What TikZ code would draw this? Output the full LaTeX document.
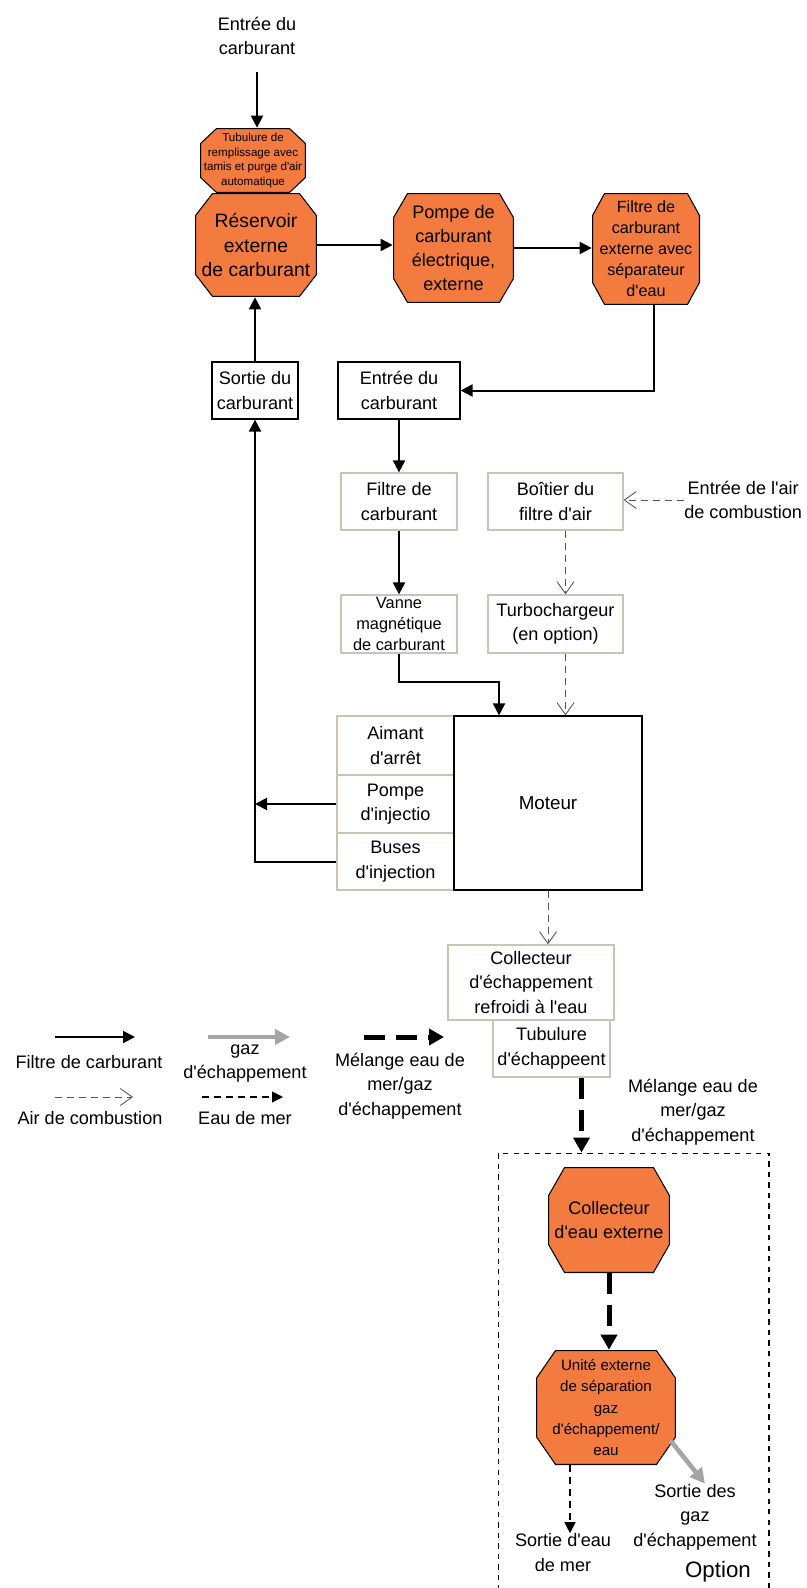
\documentclass[tikz,border=0pt]{standalone}
\usepackage{fontspec}
\setmainfont{Liberation Sans}
\usetikzlibrary{positioning, arrows.meta, calc}

\definecolor{tankorange}{RGB}{243,123,63}
\definecolor{paleline}{RGB}{205,195,178}
\definecolor{airline}{RGB}{85,85,85}
\definecolor{gasline}{RGB}{165,165,165}

\newcommand{\txtsize}[2]{\fontsize{#1}{#2}\selectfont}
\newcommand{\ap}{\textquotesingle}

\tikzset{
  lbl/.style={align=center, inner sep=0pt, font=\txtsize{10.3}{14}},
  % octagon: width, height, corner cut x, corner cut y
  octo/.style n args={4}{rectangle, minimum width=#1, minimum height=#2, inner sep=0pt, align=center,
    font=\txtsize{10.3}{13.5},
    path picture={
      \coordinate (sw) at ([shift={(0.3pt,0.3pt)}]path picture bounding box.south west);
      \coordinate (ne) at ([shift={(-0.3pt,-0.3pt)}]path picture bounding box.north east);
      \filldraw[fill=tankorange, line width=0.6pt]
        ([xshift=#3]sw) -- ([xshift=-#3]sw -| ne) -- ([yshift=#4]sw -| ne) -- ([yshift=-#4]ne)
        -- ([xshift=-#3]ne) -- ([xshift=#3]ne -| sw) -- ([yshift=-#4]ne -| sw) -- ([yshift=#4]sw) -- cycle;
    }},
  darkbox/.style={draw, line width=0.7pt, align=center, inner sep=0pt, font=\txtsize{10.3}{14}},
  palebox/.style={draw=paleline, line width=0.7pt, align=center, inner sep=0pt, font=\txtsize{10.3}{14}},
  fuel/.style={line width=0.04cm, -{Triangle[length=0.24cm,width=0.24cm]}},
  air/.style={draw=airline, line width=0.5pt, dash pattern=on 0.14cm off 0.1cm, -{Straight Barb[length=0.24cm,width=0.34cm]}},
  sea/.style={line width=0.6pt, dash pattern=on 0.14cm off 0.1cm, -{Triangle[length=0.22cm,width=0.22cm]}},
  gas/.style={draw=gasline, line width=0.09cm, -{Triangle[length=0.3cm,width=0.3cm]}},
  mix/.style={line width=0.1cm, dash pattern=on 0.42cm off 0.22cm, -{Triangle[length=0.3cm,width=0.32cm]}},
}

\begin{document}
\begin{tikzpicture}[x=0.02cm, y=-0.02cm]
    \useasboundingbox (0,0) rectangle (807,1588);

    % ---------------- TANK AND SUPPLY ----------------
    \node[lbl] (fillin) at (257,36) {Entrée du\\carburant};
    \node[octo={2.12cm}{1.3cm}{0.32cm}{0.3cm}, font=\txtsize{6.6}{8.4}] (neck) at (253,160.5) {Tubulure de\\remplissage avec\\tamis et purge d\ap air\\automatique};
    \node[octo={2.44cm}{2.08cm}{0.34cm}{0.44cm}, font=\txtsize{11}{14}] (tank) at (256,245) {Réservoir\\externe\\de carburant};
    \node[octo={2.42cm}{2.2cm}{0.28cm}{0.48cm}] (pump) at (453.5,248) {Pompe de\\carburant\\électrique,\\externe};
    \node[octo={2.16cm}{2.24cm}{0.24cm}{0.44cm}, font=\txtsize{9.2}{12}] (sepfilter) at (646,249) {Filtre de\\carburant\\externe avec\\séparateur\\d\ap eau};

    % ---------------- ENGINE SIDE ----------------
    \node[darkbox, minimum width=1.72cm, minimum height=1.14cm] (fuelout) at (255,390.5) {Sortie du\\carburant};
    \node[darkbox, minimum width=2.44cm, minimum height=1.14cm] (fuelin) at (399,390.5) {Entrée du\\carburant};
    \node[palebox, minimum width=2.32cm, minimum height=1.14cm] (finefilter) at (399,501.5) {Filtre de\\carburant};
    \node[palebox, minimum width=2.7cm, minimum height=1.14cm] (airbox) at (555.5,501.5) {Boîtier du\\filtre d\ap air};
    \node[lbl, anchor=west] (airin) at (684,500) {Entrée de l\ap air\\de combustion};
    \node[palebox, minimum width=2.32cm, minimum height=1.16cm, font=\txtsize{9.3}{12}] (valve) at (399,624) {Vanne\\magnétique\\de carburant};
    \node[palebox, minimum width=2.7cm, minimum height=1.16cm] (turbo) at (555.5,624) {Turbochargeur\\(en option)};

    % Engine block
    \node[palebox, minimum width=2.34cm, minimum height=1.18cm] (stopmag) at (395.5,745.5) {Aimant\\d\ap arrêt};
    \node[palebox, minimum width=2.34cm, minimum height=1.16cm] (injpump) at (395.5,804) {Pompe\\d\ap injectio};
    \node[palebox, minimum width=2.34cm, minimum height=1.14cm] (nozzles) at (395.5,861.5) {Buses\\d\ap injection};
    \node[darkbox, minimum width=3.76cm, minimum height=3.48cm, font=\txtsize{10.7}{14}] (engine) at (548,803) {Moteur};

    % Exhaust
    \node[palebox, minimum width=3.32cm, minimum height=1.5cm] (manifold) at (531,982.5) {Collecteur\\d\ap échappement\\refroidi à l\ap eau};
    \node[palebox, minimum width=2.34cm, minimum height=1.14cm] (exhpipe) at (551.5,1048.5) {Tubulure\\d\ap échappeent};
    \node[lbl] (mixtxt) at (693,1112) {Mélange eau de\\mer/gaz\\d\ap échappement};

    % ---------------- OPTION ----------------
    \node[draw, dashed, line width=0.6pt, minimum width=5.42cm, minimum height=9.4cm, inner sep=0pt] (optframe) at (633.5,1388) {};
    \node[lbl, font=\txtsize{12.7}{15}] (optname) at (718,1572) {Option};
    \node[octo={2.44cm}{2.12cm}{0.32cm}{0.56cm}] (collector) at (609,1220) {Collecteur\\d\ap eau externe};
    \node[octo={2.8cm}{2.3cm}{0.38cm}{0.55cm}, font=\txtsize{8.6}{12}] (separator) at (606,1407.5) {Unité externe\\de séparation\\gaz\\d\ap échappement/\\eau};
    \node[lbl] (seaout) at (563,1552.5) {Sortie d\ap eau\\de mer};
    \node[lbl] (gasout) at (695,1517) {Sortie des\\gaz\\d\ap échappement};

    % ---------------- KEY ----------------
    \node[lbl] (keyfuel) at (89,1062) {Filtre de carburant};
    \node[lbl] (keyair) at (90,1118) {Air de combustion};
    \node[lbl] (keygas) at (245,1063.5) {gaz\\d\ap échappement};
    \node[lbl] (keysea) at (245,1118) {Eau de mer};
    \node[lbl] (keymix) at (400,1086) {Mélange eau de\\mer/gaz\\d\ap échappement};
    \coordinate (kf1) at (55,1037);  \coordinate (kf2) at (135,1037);
    \coordinate (kg1) at (208,1037); \coordinate (kg2) at (290,1037);
    \coordinate (km1) at (364,1037); \coordinate (km2) at (444,1037);
    \coordinate (ka1) at (55,1097);  \coordinate (ka2) at (133,1097);
    \coordinate (ks1) at (202,1097); \coordinate (ks2) at (283,1097);
    \draw[fuel] (kf1) -- (kf2);
    \draw[gas] (kg1) -- (kg2);
    \draw[mix] (km1) -- (km2);
    \draw[air] (ka1) -- (ka2);
    \draw[sea] (ks1) -- (ks2);

    % Fuel lines
    \draw[fuel, shorten <=0.34cm] (fillin.south) -- (fillin.south |- neck.north);
    \draw[fuel] (tank.east) -- (tank.east -| pump.west);
    \draw[fuel] (pump.east) -- (pump.east -| sepfilter.west);
    \draw[fuel] ([xshift=0.16cm]sepfilter.south) |- (fuelin.east);
    \draw[fuel] (fuelout.north) -- (fuelout.north |- tank.south);
    \draw[fuel] (fuelin.south) -- (finefilter.north);
    \draw[fuel] (finefilter.south) -- (valve.north);
    \draw[fuel] (valve.south) -- ++(0,28) -| ([xshift=-0.98cm]engine.north);
    \draw[fuel] (injpump.west) -- (injpump.west -| fuelout.south);
    \draw[fuel] (nozzles.west) -| (fuelout.south);

    % Air lines
    \draw[air] (airin.west) -- (airin.west -| airbox.east);
    \draw[air] ([xshift=0.2cm]airbox.south) -- ([xshift=0.2cm]turbo.north);
    \draw[air] ([xshift=0.2cm]turbo.south) -- ([xshift=0.2cm]turbo.south |- engine.north);
    \draw[air] (engine.south) -- (engine.south |- manifold.north);

    % Mixture and outlets
    \draw[mix] ([xshift=0.6cm]exhpipe.south) -- ([xshift=0.6cm]exhpipe.south |- optframe.north);
    \draw[mix] (collector.south) -- (collector.south |- separator.north);
    \draw[sea] ([xshift=-0.72cm]separator.south) -- ([xshift=-0.72cm]separator.south |- seaout.north);
    \draw[gas] ([shift={(-0.12cm,0.5cm)}]separator.south east) -- ([xshift=0.2cm]gasout.north);
\end{tikzpicture}
\end{document}
